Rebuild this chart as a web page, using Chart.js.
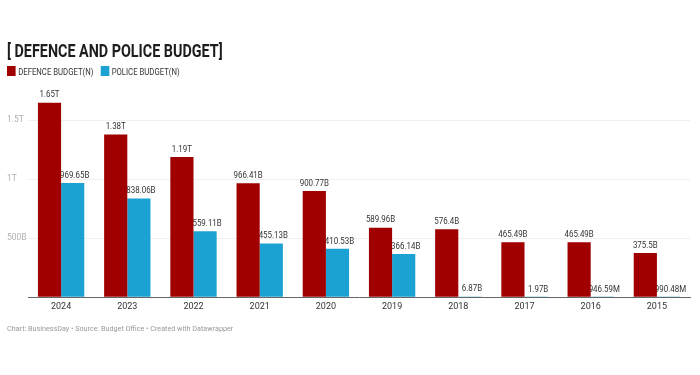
<!DOCTYPE html>
<html>
<head>
<meta charset="utf-8">
<script src="https://cdn.jsdelivr.net/npm/chart.js@4.4.1/dist/chart.umd.min.js"></script>
<style>
  body { margin: 0; background: #fff; font-family: Roboto, sans-serif; }
  #wrap { position: relative; width: 700px; height: 375px; overflow: hidden; }
  #title { position: absolute; left: 7px; top: 41px; font-size: 17.5px; font-weight: 700; color: #1d1d1d;
           transform: scaleX(0.82); transform-origin: left; white-space: nowrap; }
  #legend { position: absolute; left: 7px; top: 66px; font-size: 9px; color: #333; white-space: nowrap;
            transform: scaleX(0.86); transform-origin: left; }
  .item { display: inline-block; margin-right: 6px; }
  .sw { display: inline-block; width: 10px; height: 10px; vertical-align: -1px; margin-right: 3px; }
  #footer { position: absolute; left: 7px; top: 324px; font-size: 8px; color: #999; white-space: nowrap;
            transform: scaleX(0.9); transform-origin: left; }
  #box { position: absolute; left: 0; top: 0; width: 700px; height: 375px; }
</style>
</head>
<body>
<div id="wrap">
  <div id="box"><canvas id="budgetChart"></canvas></div>
  <div id="title">[ DEFENCE AND POLICE BUDGET]</div>
  <div id="legend">
    <span class="item"><span class="sw" style="background:#a00000"></span>DEFENCE BUDGET(N)</span>
    <span class="item"><span class="sw" style="background:#1ba2d2"></span>POLICE BUDGET(N)</span>
  </div>
  <div id="footer">Chart: BusinessDay • Source: Budget Office • Created with Datawrapper</div>
</div>
<script>
// values in billions of naira
const years = ['2024', '2023', '2022', '2021', '2020', '2019', '2018', '2017', '2016', '2015'];
const defenceBudget = [1650, 1380, 1190, 966.41, 900.77, 589.96, 576.4, 465.49, 465.49, 375.5];
const policeBudget = [969.65, 838.06, 559.11, 455.13, 410.53, 366.14, 6.87, 1.97, 0.94659, 0.99048];
const yTicks = [0, 500, 1000, 1500];

const RED = '#a00000';
const BLUE = '#1ba2d2';

function fmt(v) {
  if (v >= 1000) return +(v / 1000).toFixed(2) + 'T';
  if (v >= 1) return +v.toFixed(2) + 'B';
  return +(v * 1000).toFixed(2) + 'M';
}

function drawLabels(chart, idx) {
  const ctx = chart.ctx;
  const meta = chart.getDatasetMeta(idx);
  ctx.save();
  ctx.font = '9px Roboto, sans-serif';
  ctx.fillStyle = '#333';
  ctx.textAlign = 'center';
  ctx.textBaseline = 'bottom';
  meta.data.forEach((bar, i) => {
    // slightly condensed text, like the original
    ctx.save();
    ctx.translate(bar.x + (idx === 1 ? 2 : 0), bar.y - 3);
    ctx.scale(0.88, 1);
    ctx.fillText(fmt(chart.data.datasets[idx].data[i]), 0, 0);
    ctx.restore();
  });
  ctx.restore();
}

// police labels go under the bars, defence labels on top
const valueLabels = {
  id: 'valueLabels',
  beforeDatasetsDraw(chart) { drawLabels(chart, 1); },
  afterDatasetsDraw(chart) { drawLabels(chart, 0); }
};

const ctx = document.getElementById('budgetChart').getContext('2d');
new Chart(ctx, {
  type: 'bar',
  data: {
    labels: years,
    datasets: [
      { label: 'DEFENCE BUDGET(N)', data: defenceBudget, backgroundColor: RED },
      { label: 'POLICE BUDGET(N)', data: policeBudget, backgroundColor: BLUE }
    ]
  },
  options: {
    responsive: true,
    maintainAspectRatio: false,
    animation: false,
    datasets: { bar: { barPercentage: 1, categoryPercentage: 0.7 } },
    layout: { padding: { left: 7, right: 10, top: 85, bottom: 59 } },
    plugins: { legend: { display: false }, tooltip: { enabled: false } },
    scales: {
      x: {
        grid: { display: false, drawTicks: false },
        border: { display: true, color: '#666', width: 1 },
        ticks: { color: '#333', font: { family: 'Roboto', size: 9 }, padding: 4 }
      },
      y: {
        min: 0,
        max: 1800,
        afterBuildTicks: s => { s.ticks = yTicks.map(v => ({ value: v })); },
        grid: { color: ctx => ctx.tick && ctx.tick.value === 0 ? 'rgba(0,0,0,0)' : '#f0f0f0', drawTicks: false },
        border: { display: false },
        ticks: {
          color: '#b0b0b0',
          font: { family: 'Roboto', size: 8.5 },
          crossAlign: 'far',
          padding: 0,
          callback: v => v === 0 ? '' : (v >= 1000 ? (v / 1000) + 'T' : v + 'B')
        },
        afterFit: s => { s.width = 21; }
      }
    }
  },
  plugins: [valueLabels]
});
</script>
</body>
</html>
